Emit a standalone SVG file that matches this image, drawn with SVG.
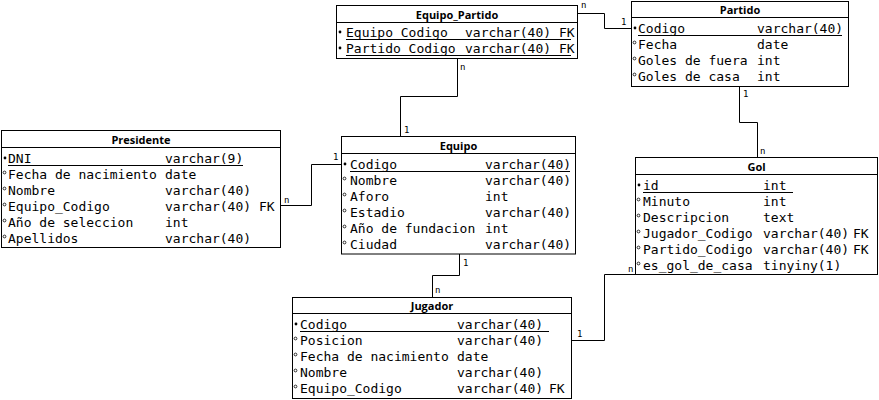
<svg xmlns="http://www.w3.org/2000/svg" width="879" height="400" viewBox="0 0 879 400">
<style>
.bg{fill:#fff}
.box{fill:#fff;stroke:#000;stroke-width:1}
.ln{stroke:#000;stroke-width:1;fill:none}
.hd{font-family:"Open Sans","DejaVu Sans",sans-serif;font-weight:bold;font-size:11px;text-anchor:middle;fill:#000}
.f{font-family:"DejaVu Sans Mono","Liberation Mono",monospace;font-size:13px;fill:#000}
.lbl{font-family:"DejaVu Sans Mono","Liberation Mono",monospace;font-size:9px;fill:#000}
.pk{fill:#000}
.at{fill:none;stroke:#000;stroke-width:0.8}
</style>
<rect class="bg" x="0" y="0" width="879" height="400"/>

<g id="connectors">
  <path class="ln" d="M578,13.5 H604.5 V28.5 H631"/>
  <path class="ln" d="M457.5,59 V96.5 H400.5 V136"/>
  <path class="ln" d="M281,205.5 H311.5 V164.5 H341"/>
  <path class="ln" d="M739.5,87 V122.5 H757.5 V157"/>
  <path class="ln" d="M459.5,254 V275.5 H432.5 V297"/>
  <path class="ln" d="M572,340.5 H604.5 V274.5 H636"/>
  <text class="lbl" x="581" y="8">n</text>
  <text class="lbl" x="621" y="25">1</text>
  <text class="lbl" x="460" y="70">n</text>
  <text class="lbl" x="404" y="133">1</text>
  <text class="lbl" x="284" y="203">n</text>
  <text class="lbl" x="333" y="160">1</text>
  <text class="lbl" x="743" y="97">1</text>
  <text class="lbl" x="760" y="154">n</text>
  <text class="lbl" x="463" y="266">1</text>
  <text class="lbl" x="435" y="293">n</text>
  <text class="lbl" x="628" y="272">n</text>
  <text class="lbl" x="577" y="337">1</text>
</g>

<g id="equipo_partido">
  <rect class="box" x="336.5" y="5.5" width="241" height="53"/>
  <line class="ln" x1="336.5" y1="22.5" x2="577.5" y2="22.5"/>
  <text class="hd" x="457" y="19">Equipo_Partido</text>
  <circle class="pk" cx="340" cy="32" r="1.4"/>
  <text class="f" x="346" y="37">Equipo_Codigo</text>
  <text class="f" x="465" y="37">varchar(40)</text>
  <text class="f" x="559" y="37">FK</text>
  <line class="ln" x1="346" y1="39.5" x2="571" y2="39.5"/>
  <circle class="pk" cx="340" cy="48" r="1.4"/>
  <text class="f" x="346" y="53">Partido_Codigo</text>
  <text class="f" x="465" y="53">varchar(40)</text>
  <text class="f" x="559" y="53">FK</text>
  <line class="ln" x1="346" y1="55.5" x2="571" y2="55.5"/>
</g>

<g id="partido">
  <rect class="box" x="631.5" y="1.5" width="217" height="85"/>
  <line class="ln" x1="631.5" y1="17.5" x2="848.5" y2="17.5"/>
  <text class="hd" x="740" y="14">Partido</text>
  <circle class="pk" cx="635" cy="28" r="1.4"/>
  <text class="f" x="638" y="33">Codigo</text>
  <text class="f" x="757" y="33">varchar(40)</text>
  <line class="ln" x1="638" y1="35.5" x2="842" y2="35.5"/>
  <circle class="at" cx="634.5" cy="42.5" r="1.4"/>
  <text class="f" x="638" y="49">Fecha</text>
  <text class="f" x="757" y="49">date</text>
  <circle class="at" cx="634.5" cy="58.5" r="1.4"/>
  <text class="f" x="638" y="65">Goles de fuera</text>
  <text class="f" x="757" y="65">int</text>
  <circle class="at" cx="634.5" cy="74.5" r="1.4"/>
  <text class="f" x="638" y="81">Goles de casa</text>
  <text class="f" x="757" y="81">int</text>
</g>

<g id="presidente">
  <rect class="box" x="1.5" y="130.5" width="279" height="117"/>
  <line class="ln" x1="1.5" y1="147.5" x2="280.5" y2="147.5"/>
  <text class="hd" x="141" y="144">Presidente</text>
  <circle class="pk" cx="5" cy="158" r="1.4"/>
  <text class="f" x="8" y="163">DNI</text>
  <text class="f" x="165" y="163">varchar(9)</text>
  <line class="ln" x1="8" y1="165.5" x2="243" y2="165.5"/>
  <circle class="at" cx="4.5" cy="172.5" r="1.4"/>
  <text class="f" x="8" y="179">Fecha de nacimiento</text>
  <text class="f" x="165" y="179">date</text>
  <circle class="at" cx="4.5" cy="188.5" r="1.4"/>
  <text class="f" x="8" y="195">Nombre</text>
  <text class="f" x="165" y="195">varchar(40)</text>
  <circle class="at" cx="4.5" cy="204.5" r="1.4"/>
  <text class="f" x="8" y="211">Equipo_Codigo</text>
  <text class="f" x="165" y="211">varchar(40)</text>
  <text class="f" x="259" y="211">FK</text>
  <circle class="at" cx="4.5" cy="220.5" r="1.4"/>
  <text class="f" x="8" y="227">Año de seleccion</text>
  <text class="f" x="165" y="227">int</text>
  <circle class="at" cx="4.5" cy="236.5" r="1.4"/>
  <text class="f" x="8" y="243">Apellidos</text>
  <text class="f" x="165" y="243">varchar(40)</text>
</g>

<g id="equipo">
  <rect class="box" x="341.5" y="136.5" width="234" height="117.5"/>
  <line class="ln" x1="341.5" y1="153.5" x2="575.5" y2="153.5"/>
  <text class="hd" x="458.5" y="150">Equipo</text>
  <circle class="pk" cx="345" cy="164" r="1.4"/>
  <text class="f" x="350" y="169">Codigo</text>
  <text class="f" x="485" y="169">varchar(40)</text>
  <line class="ln" x1="350" y1="171.5" x2="570" y2="171.5"/>
  <circle class="at" cx="344.5" cy="178.5" r="1.4"/>
  <text class="f" x="350" y="185">Nombre</text>
  <text class="f" x="485" y="185">varchar(40)</text>
  <circle class="at" cx="344.5" cy="194.5" r="1.4"/>
  <text class="f" x="350" y="201">Aforo</text>
  <text class="f" x="485" y="201">int</text>
  <circle class="at" cx="344.5" cy="210.5" r="1.4"/>
  <text class="f" x="350" y="217">Estadio</text>
  <text class="f" x="485" y="217">varchar(40)</text>
  <circle class="at" cx="344.5" cy="226.5" r="1.4"/>
  <text class="f" x="350" y="233">Año de fundacion</text>
  <text class="f" x="485" y="233">int</text>
  <circle class="at" cx="344.5" cy="242.5" r="1.4"/>
  <text class="f" x="350" y="249">Ciudad</text>
  <text class="f" x="485" y="249">varchar(40)</text>
</g>

<g id="gol">
  <rect class="box" x="635.5" y="157.5" width="242" height="117"/>
  <line class="ln" x1="635.5" y1="174.5" x2="877.5" y2="174.5"/>
  <text class="hd" x="756.5" y="171">Gol</text>
  <circle class="pk" cx="639" cy="185" r="1.4"/>
  <text class="f" x="643" y="190">id</text>
  <text class="f" x="763" y="190">int</text>
  <line class="ln" x1="643" y1="192.5" x2="793" y2="192.5"/>
  <circle class="at" cx="638.5" cy="199.5" r="1.4"/>
  <text class="f" x="643" y="206">Minuto</text>
  <text class="f" x="763" y="206">int</text>
  <circle class="at" cx="638.5" cy="215.5" r="1.4"/>
  <text class="f" x="643" y="222">Descripcion</text>
  <text class="f" x="763" y="222">text</text>
  <circle class="at" cx="638.5" cy="231.5" r="1.4"/>
  <text class="f" x="643" y="238">Jugador_Codigo</text>
  <text class="f" x="763" y="238">varchar(40)</text>
  <text class="f" x="853" y="238">FK</text>
  <circle class="at" cx="638.5" cy="247.5" r="1.4"/>
  <text class="f" x="643" y="254">Partido_Codigo</text>
  <text class="f" x="763" y="254">varchar(40)</text>
  <text class="f" x="853" y="254">FK</text>
  <circle class="at" cx="638.5" cy="263.5" r="1.4"/>
  <text class="f" x="643" y="270">es_gol_de_casa</text>
  <text class="f" x="763" y="270">tinyiny(1)</text>
</g>

<g id="jugador">
  <rect class="box" x="292.5" y="297.5" width="279" height="101"/>
  <line class="ln" x1="292.5" y1="313.5" x2="571.5" y2="313.5"/>
  <text class="hd" x="432" y="310">Jugador</text>
  <circle class="pk" cx="296" cy="324" r="1.4"/>
  <text class="f" x="300" y="329">Codigo</text>
  <text class="f" x="457" y="329">varchar(40)</text>
  <line class="ln" x1="300" y1="331.5" x2="549" y2="331.5"/>
  <circle class="at" cx="295.5" cy="338.5" r="1.4"/>
  <text class="f" x="300" y="345">Posicion</text>
  <text class="f" x="457" y="345">varchar(40)</text>
  <circle class="at" cx="295.5" cy="354.5" r="1.4"/>
  <text class="f" x="300" y="361">Fecha de nacimiento</text>
  <text class="f" x="457" y="361">date</text>
  <circle class="at" cx="295.5" cy="370.5" r="1.4"/>
  <text class="f" x="300" y="377">Nombre</text>
  <text class="f" x="457" y="377">varchar(40)</text>
  <circle class="at" cx="295.5" cy="386.5" r="1.4"/>
  <text class="f" x="300" y="393">Equipo_Codigo</text>
  <text class="f" x="457" y="393">varchar(40)</text>
  <text class="f" x="549" y="393">FK</text>
</g>
</svg>
